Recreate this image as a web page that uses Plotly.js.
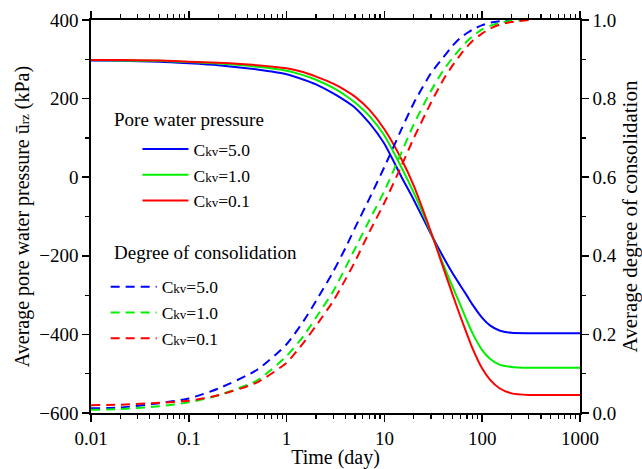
<!DOCTYPE html>
<html>
<head>
<meta charset="utf-8">
<script src="https://cdn.plot.ly/plotly-3.0.1.min.js"></script>
<style>html,body{margin:0;padding:0;background:#fff;}#chart{width:642px;height:469px;}</style>
</head>
<body>
<div id="chart"></div>
<script>
// Time (day)
const time = [0.01, 0.02, 0.05, 0.1, 0.2, 0.5, 1, 1.5, 2, 3, 4, 5, 7, 10, 15, 20, 30, 40, 50, 60, 70, 80, 100, 120, 150, 200, 300, 500, 1000];

// Average pore water pressure (kPa)
const pwp_ckv5  = [297, 296, 294, 290, 285, 274, 262, 248, 236, 213, 194, 177, 138, 85, 0, -58, -145, -203, -245, -276, -302, -325, -358, -377, -390, -396, -397, -397, -397];
const pwp_ckv1  = [298, 297, 296, 293, 289, 281, 271, 259, 248, 227, 208, 190, 156, 106, 24, -40, -142, -222, -280, -326, -366, -398, -440, -462, -477, -483, -485, -485, -485];
const pwp_ckv01 = [298, 298, 297, 294, 291, 285, 277, 267, 256, 238, 221, 205, 172, 122, 45, -22, -140, -230, -300, -355, -400, -437, -487, -515, -537, -550, -554, -554, -554];

// Average degree of consolidation
const deg_ckv5  = [0.012, 0.014, 0.025, 0.037, 0.062, 0.110, 0.175, 0.235, 0.285, 0.360, 0.420, 0.471, 0.545, 0.626, 0.723, 0.789, 0.865, 0.905, 0.935, 0.955, 0.967, 0.976, 0.987, 0.993, 0.997, 1.000, null, null, null];
const deg_ckv1  = [0.008, 0.010, 0.017, 0.027, 0.045, 0.083, 0.145, 0.197, 0.243, 0.310, 0.370, 0.418, 0.490, 0.565, 0.664, 0.735, 0.820, 0.872, 0.904, 0.928, 0.946, 0.959, 0.976, 0.985, 0.993, 0.998, 1.000, null, null];
const deg_ckv01 = [0.020, 0.021, 0.026, 0.031, 0.045, 0.078, 0.128, 0.180, 0.222, 0.285, 0.340, 0.385, 0.460, 0.535, 0.630, 0.700, 0.790, 0.848, 0.885, 0.912, 0.932, 0.947, 0.966, 0.978, 0.988, 0.995, 1.000, null, null];

const seriesNames = [
  'C<span style="font-size:13px">kv</span>=5.0',
  'C<span style="font-size:13px">kv</span>=1.0',
  'C<span style="font-size:13px">kv</span>=0.1'
];
const colors = ['#0000ff', '#00f000', '#ff0000'];
const pwpSeries = [pwp_ckv5, pwp_ckv1, pwp_ckv01];
const degSeries = [deg_ckv5, deg_ckv1, deg_ckv01];

const FONT = '"Liberation Serif", "Times New Roman", Times, serif';
const traces = [];
pwpSeries.forEach((s, i) => traces.push({
  x: time, y: s, type: 'scatter', mode: 'lines', name: seriesNames[i],
  line: {color: colors[i], width: 2, shape: 'spline', smoothing: 0.6},
  xaxis: 'x', yaxis: 'y', legend: 'legend'
}));
degSeries.forEach((s, i) => traces.push({
  x: time, y: s, type: 'scatter', mode: 'lines', name: seriesNames[i],
  line: {color: colors[i], width: 2, dash: '9px,6px', shape: 'spline', smoothing: 0.6},
  connectgaps: false, xaxis: 'x', yaxis: 'y2', legend: 'legend2'
}));

const layout = {
  width: 642, height: 469,
  margin: {l: 91, r: 62, t: 20, b: 56},
  paper_bgcolor: '#fff', plot_bgcolor: '#fff',
  font: {family: FONT, size: 18, color: '#000'},
  showlegend: true,
  xaxis: {
    type: 'log', range: [-2, 3], dtick: 1,
    tickvals: [0.01, 0.1, 1, 10, 100, 1000], ticktext: ['0.01', '0.1', '1', '10', '100', '1000'],
    ticks: 'outside', ticklen: 7, tickwidth: 1.5, tickcolor: '#000',
    minor: {ticks: 'outside', ticklen: 4, tickwidth: 1.2, tickcolor: '#000', dtick: 'D1', showgrid: false},
    showline: true, linecolor: '#000', linewidth: 1.8, mirror: 'ticks',
    showgrid: false, zeroline: false,
    tickfont: {family: FONT, size: 19},
    title: {text: 'Time (day)', font: {family: FONT, size: 20}, standoff: 4}
  },
  yaxis: {
    range: [-600, 400], dtick: 200,
    ticks: 'outside', ticklen: 7, tickwidth: 1.5, tickcolor: '#000',
    minor: {ticks: 'outside', ticklen: 4, tickwidth: 1.2, tickcolor: '#000', dtick: 100, showgrid: false},
    showline: true, linecolor: '#000', linewidth: 1.8,
    showgrid: false, zeroline: false,
    tickfont: {family: FONT, size: 19},
    title: {text: 'Average pore water pressure ū<span style="font-size:13px">rz</span> (kPa)', font: {family: FONT, size: 20}, standoff: 4}
  },
  yaxis2: {
    overlaying: 'y', side: 'right', range: [0, 1], dtick: 0.2, tickformat: '.1f',
    ticks: 'outside', ticklen: 7, tickwidth: 1.5, tickcolor: '#000',
    minor: {ticks: 'outside', ticklen: 4, tickwidth: 1.2, tickcolor: '#000', dtick: 0.1, showgrid: false},
    showline: true, linecolor: '#000', linewidth: 1.8,
    showgrid: false, zeroline: false,
    tickfont: {family: FONT, size: 19},
    title: {text: 'Average degree of consolidation', font: {family: FONT, size: 21}, standoff: 10}
  },
  legend: {
    x: 0.095, y: 0.717, xanchor: 'left', yanchor: 'top',
    bgcolor: 'rgba(0,0,0,0)', borderwidth: 0, itemwidth: 46,
    font: {family: FONT, size: 17.5}, tracegroupgap: 0
  },
  legend2: {
    x: 0.03, y: 0.367, xanchor: 'left', yanchor: 'top',
    bgcolor: 'rgba(0,0,0,0)', borderwidth: 0, itemwidth: 46,
    font: {family: FONT, size: 17.5}, tracegroupgap: 0
  },
  annotations: [
    {text: 'Pore water pressure', xref: 'paper', yref: 'paper', x: 0.042, y: 0.746, xanchor: 'left', yanchor: 'middle', showarrow: false, font: {family: FONT, size: 19}},
    {text: 'Degree of consolidation', xref: 'paper', yref: 'paper', x: 0.042, y: 0.408, xanchor: 'left', yanchor: 'middle', showarrow: false, font: {family: FONT, size: 19}}
  ]
};

Plotly.newPlot('chart', traces, layout, {displayModeBar: false, staticPlot: true});
</script>
</body>
</html>
